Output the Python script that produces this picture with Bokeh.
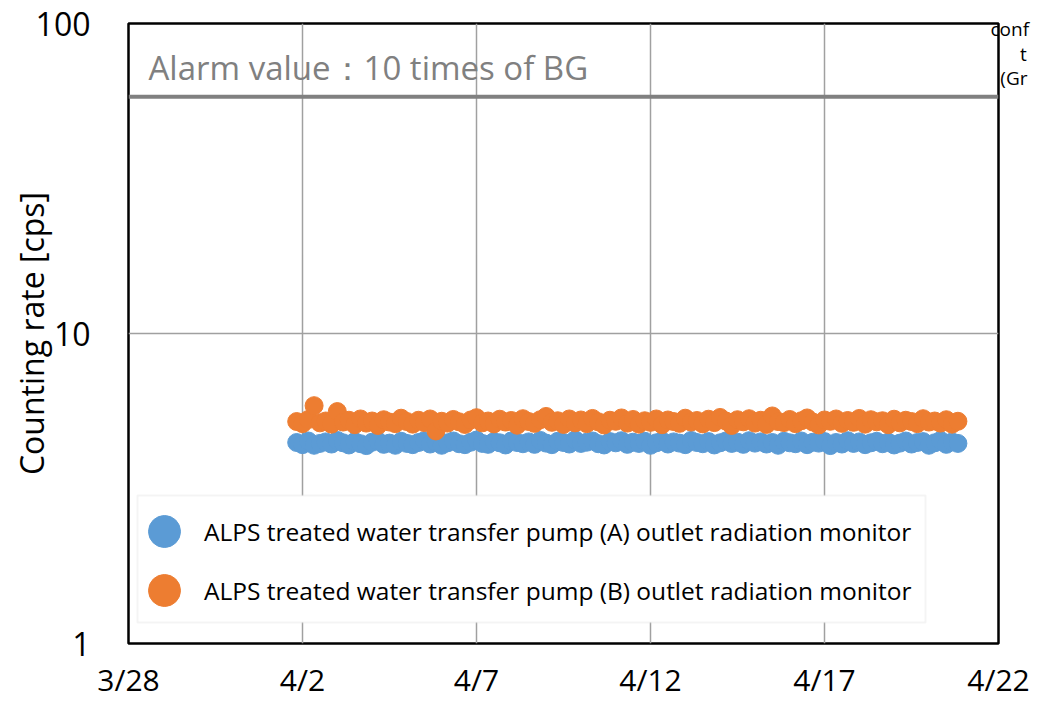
import pandas as pd
from bokeh.plotting import figure
from bokeh.models import (FixedTicker, Range1d, Span, Label, BoxAnnotation,
                          Legend, LegendItem, LogAxis)
from bokeh.embed import file_html
from bokeh.resources import INLINE

# ---------------- data ----------------
x_tick_dates = ["2024-03-28", "2024-04-02", "2024-04-07", "2024-04-12", "2024-04-17", "2024-04-22"]
x_tick_labels = ["3/28", "4/2", "4/7", "4/12", "4/17", "4/22"]
y_ticks = [1, 10, 100]
y_tick_labels = ["1", "10", "100"]
alarm_value = 58
alarm_text = "Alarm value：10 times of BG"
y_title = "Counting rate [cps]"
label_a = "ALPS treated water transfer pump (A) outlet radiation monitor"
label_b = "ALPS treated water transfer pump (B) outlet radiation monitor"
# fragments of a neighbouring note, cut by the right edge of the picture
note_levels = [96, 80, 66.5]
note_texts = ["conf", "\u00a0" * 6 + "t", "\u00a0" * 2 + "(Gr"]

first_time = "2024-04-01 20:00"
step = "4h"

pump_a = [
    4.45, 4.38, 4.50, 4.36, 4.42, 4.47, 4.40, 4.52, 4.44, 4.37,
    4.48, 4.41, 4.35, 4.46, 4.50, 4.39, 4.43, 4.36, 4.49, 4.42,
    4.38, 4.45, 4.51, 4.40, 4.47, 4.36, 4.44, 4.50, 4.41, 4.38,
    4.46, 4.53, 4.42, 4.39, 4.48, 4.44, 4.37, 4.50, 4.45, 4.41,
    4.47, 4.39, 4.52, 4.43, 4.38, 4.49, 4.45, 4.40, 4.54, 4.42,
    4.46, 4.50, 4.41, 4.37, 4.48, 4.44, 4.51, 4.39, 4.46, 4.42,
    4.49, 4.36, 4.44, 4.50, 4.40, 4.47, 4.43, 4.38, 4.52, 4.45,
    4.41, 4.48, 4.37, 4.44, 4.50, 4.42, 4.46, 4.39, 4.51, 4.43,
    4.47, 4.40, 4.45, 4.36, 4.49, 4.44, 4.41, 4.50, 4.38, 4.46,
    4.43, 4.48, 4.35, 4.45, 4.40, 4.51, 4.42, 4.47, 4.38, 4.44,
    4.49, 4.41, 4.46, 4.37, 4.43, 4.50, 4.40, 4.45, 4.48, 4.36,
    4.44, 4.52, 4.39, 4.47, 4.42,
]
pump_b = [
    5.20, 5.12, 5.28, 5.85, 5.15, 5.22, 5.10, 5.60, 5.18, 5.25,
    5.08, 5.30, 5.14, 5.22, 5.05, 5.27, 5.18, 5.12, 5.33, 5.20,
    5.10, 5.25, 5.16, 5.30, 4.85, 5.21, 5.14, 5.28, 5.19, 5.09,
    5.26, 5.35, 5.15, 5.22, 5.11, 5.29, 5.18, 5.24, 5.06, 5.31,
    5.20, 5.13, 5.27, 5.40, 5.17, 5.23, 5.09, 5.30, 5.15, 5.26,
    5.12, 5.32, 5.19, 5.07, 5.25, 5.21, 5.34, 5.14, 5.28, 5.10,
    5.23, 5.17, 5.30, 5.08, 5.26, 5.20, 5.13, 5.33, 5.18, 5.24,
    5.11, 5.29, 5.16, 5.36, 5.22, 5.05, 5.27, 5.19, 5.31, 5.14,
    5.25, 5.09, 5.42, 5.20, 5.16, 5.28, 5.12, 5.23, 5.34, 5.18,
    5.07, 5.26, 5.21, 5.30, 5.13, 5.24, 5.17, 5.32, 5.10, 5.27,
    5.19, 5.23, 5.08, 5.29, 5.15, 5.25, 5.20, 5.12, 5.31, 5.18,
    5.22, 5.14, 5.27, 5.10, 5.21,
]

times = pd.date_range(first_time, periods=len(pump_a), freq=step)


def to_ms(s):
    return int(pd.Timestamp(s).value // 10**6)


x_ticks_ms = [to_ms(d) for d in x_tick_dates]

FONT = "Open Sans"
BLUE = "#5b9bd5"
ORANGE = "#ed7d31"

p = figure(width=1032, height=703, x_axis_type="datetime", y_axis_type="log",
           x_range=Range1d(x_ticks_ms[0], x_ticks_ms[-1]),
           y_range=Range1d(y_ticks[0], y_ticks[-1]),
           output_backend="svg", toolbar_location=None,
           min_border_left=128, min_border_right=31,
           min_border_top=23, min_border_bottom=60)

p.outline_line_color = "black"
p.outline_line_width = 2.5
p.background_fill_color = "white"

for ax in (p.xaxis, p.yaxis):
    ax.axis_line_color = None
    ax.major_tick_line_color = None
    ax.minor_tick_line_color = None
    ax.major_tick_in = 0
    ax.major_tick_out = 0
    ax.minor_tick_in = 0
    ax.minor_tick_out = 0
    ax.major_label_text_font = FONT
    ax.major_label_text_color = "black"

p.xaxis.ticker = FixedTicker(ticks=x_ticks_ms)
p.xaxis.major_label_overrides = dict(zip(x_ticks_ms, x_tick_labels))
p.xaxis.major_label_text_font_size = "30px"
p.xaxis.major_label_standoff = 15

p.yaxis.ticker = FixedTicker(ticks=y_ticks)
p.yaxis.major_label_overrides = dict(zip(y_ticks, y_tick_labels))
p.yaxis.major_label_text_font_size = "32px"
p.yaxis.major_label_standoff = 38
p.yaxis.axis_label = y_title
p.yaxis.axis_label_text_font = FONT
p.yaxis.axis_label_text_font_size = "32px"
p.yaxis.axis_label_text_font_style = "normal"
p.yaxis.axis_label_text_color = "black"
p.yaxis.axis_label_standoff = -20

p.xgrid.grid_line_color = "#a0a0a0"
p.xgrid.grid_line_width = 1.5
p.ygrid.grid_line_color = "#a0a0a0"
p.ygrid.grid_line_width = 1.5

# right-hand axis that only carries the cut-off note fragments
note_axis = LogAxis(ticker=FixedTicker(ticks=note_levels),
                    major_label_overrides=dict(zip(note_levels, note_texts)),
                    axis_line_color=None, major_tick_line_color=None,
                    minor_tick_line_color=None, major_tick_in=0, major_tick_out=0,
                    minor_tick_in=0, minor_tick_out=0,
                    major_label_standoff=-8, major_label_text_font=FONT,
                    major_label_text_font_size="19px", major_label_text_color="black")
p.add_layout(note_axis, "right")

ra = p.scatter(times, pump_a, size=18, color=BLUE, line_color=BLUE)
rb = p.scatter(times, pump_b, size=18, color=ORANGE, line_color=ORANGE)

p.add_layout(Span(location=alarm_value, dimension="width",
                  line_color="#808080", line_width=4))

p.add_layout(Label(x=20, y=576, x_units="screen", y_units="screen", text=alarm_text,
                   text_font=FONT, text_font_size="33px", text_color="#808080",
                   text_baseline="middle", text_align="left"))

p.add_layout(BoxAnnotation(left=9, right=797, bottom=21, top=148,
                           left_units="screen", right_units="screen",
                           bottom_units="screen", top_units="screen",
                           fill_color="white", fill_alpha=1.0,
                           line_color="#d9d9d9", line_width=2))

for item_label, rend, ybot in ((label_a, ra, 66), (label_b, rb, 7)):
    lg = Legend(items=[LegendItem(label=item_label, renderers=[rend])],
                location=(-4, ybot), glyph_width=80, glyph_height=92,
                spacing=0, padding=0, margin=0, label_standoff=0,
                border_line_color=None, background_fill_alpha=0,
                label_text_font=FONT, label_text_font_size="24.5px",
                label_text_color="black")
    p.add_layout(lg)

open("out.html", "w").write(file_html(p, INLINE))
